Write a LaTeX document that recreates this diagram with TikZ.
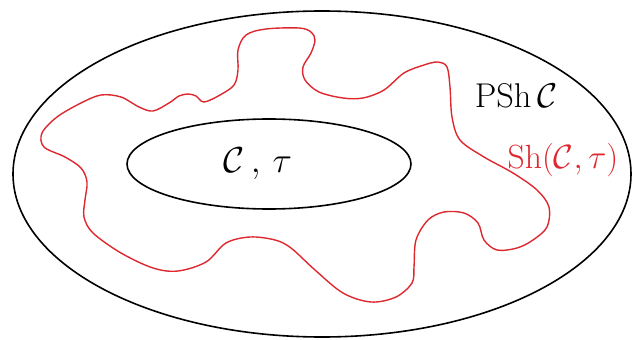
\documentclass[tikz,border=0pt]{standalone}
\usepackage{amsmath}
\usepackage{amssymb}
\usepackage{xcolor}
\usepackage{tikz}
\usetikzlibrary{positioning,calc}
\definecolor{sheafred}{RGB}{222,40,48}

\begin{document}
\begin{tikzpicture}[x=1pt, y=-1pt]

\useasboundingbox (0,0) rectangle (633,340);

\draw[black, line width=1.6pt] (322,174) ellipse [x radius=309, y radius=163];
\draw[black, line width=1.6pt] (269,164) ellipse [x radius=142, y radius=45];

\draw[sheafred, line width=1.4pt] plot[smooth cycle, tension=0.55] coordinates {
  (204,102) (196,96) (188,94) (179,96) (169,103) (153,111) (139,107) (121,97)
  (101,95) (81,103) (57,117) (42,133) (44,147) (65,157) (81,168) (87,182)
  (85,200) (84,217) (93,233) (121,253) (153,268) (178,271) (206,262) (226,243)
  (250,237) (275,240) (291,248) (315,270) (343,293) (371,302) (396,297)
  (412,283) (414,267) (416,240) (428,220) (444,212) (464,213) (478,223)
  (484,240) (497,250) (517,248) (533,240) (547,227) (549,207) (537,190)
  (513,173) (484,157) (460,140) (452,117) (450,87) (447,67) (438,62) (424,65)
  (404,73) (384,90) (363,98) (343,98) (319,92) (305,80) (303,67) (311,53)
  (315,40) (311,32) (299,28) (266,29) (246,35) (238,50) (238,70) (234,85)
  (220,95)};

\node[font=\Huge, scale=1.45] (site) at (258,164) {$\mathcal{C}\,,\,\tau$};
\node[font=\Huge, scale=1.38] (psh) at (516,96) {$\mathrm{PSh}\,\mathcal{C}$};
\node[font=\Huge, scale=1.35, text=sheafred] (sh) at (563,160) {$\mathrm{Sh}(\mathcal{C},\tau)$};

\end{tikzpicture}
\end{document}
